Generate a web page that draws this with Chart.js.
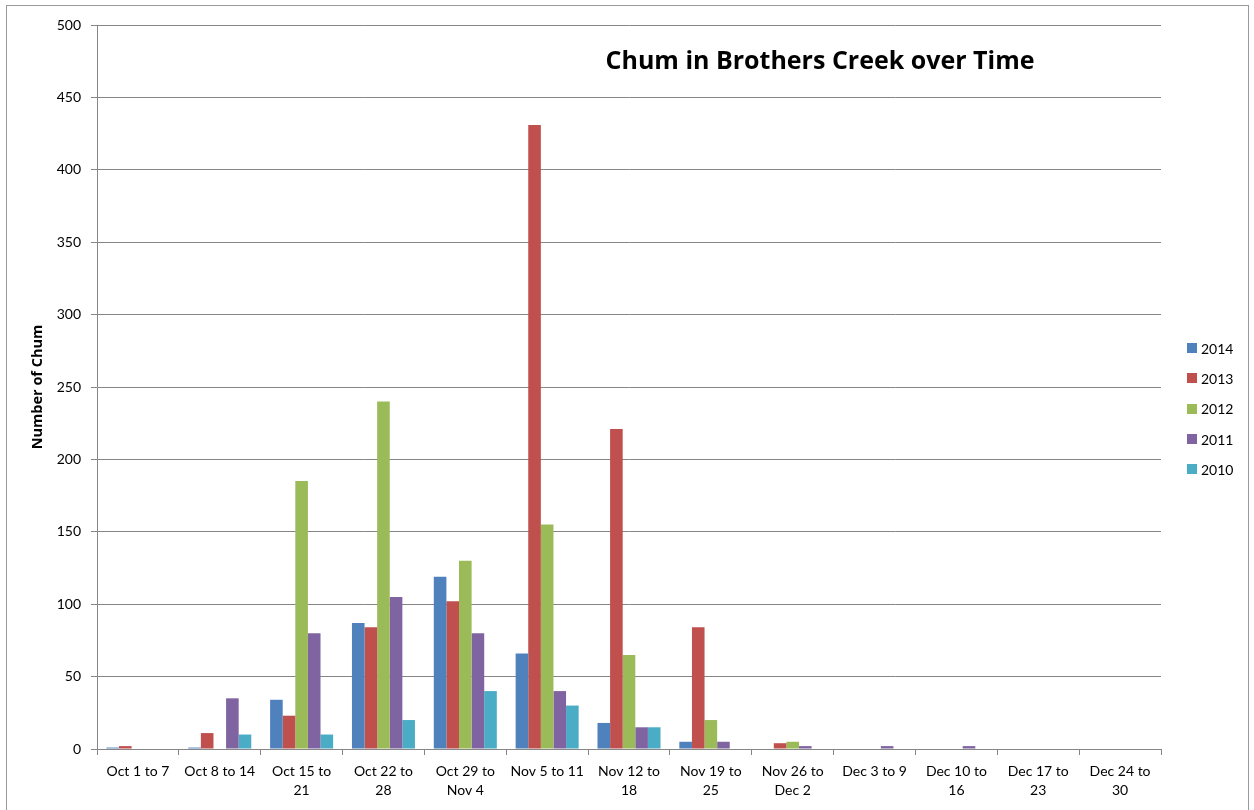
<!DOCTYPE html>
<html>
<head>
<meta charset="utf-8">
<script src="https://cdn.jsdelivr.net/npm/chart.js@4"></script>
<style>
  html, body { margin: 0; padding: 0; background: #fff; }
  #wrap { position: relative; width: 1254px; height: 810px; overflow: hidden; }
  #frame { position: absolute; left: 6px; top: 5px; width: 1243px; height: 820px; border: 1px solid #9a9a9a; box-sizing: border-box; pointer-events: none; }
  #c { position: absolute; left: 0; top: 0; }
  #title { position: absolute; left: 520px; width: 600px; top: 42px; text-align: center;
           font: bold 25px "Open Sans", Lato, sans-serif; color: #000; line-height: 34px; }
  #legend { position: absolute; left: 1187px; top: 333px; font: 14px Lato, sans-serif; color: #000; }
  #legend div { height: 30.3px; display: flex; align-items: center; }
  #legend span { display: inline-block; width: 10px; height: 10px; margin-right: 4px; }
</style>
</head>
<body>
<div id="wrap">
  <canvas id="c" width="1254" height="810"></canvas>
  <div id="frame"></div>
  <div id="title">Chum in Brothers Creek over Time</div>
  <div id="legend"></div>
</div>
<script>
// ── Data ────────────────────────────────────────────────────────────
const weeks = [
  ['Oct 1 to 7'], ['Oct 8 to 14'], ['Oct 15 to', '21'], ['Oct 22 to', '28'],
  ['Oct 29 to', 'Nov 4'], ['Nov 5 to 11'], ['Nov 12 to', '18'], ['Nov 19 to', '25'],
  ['Nov 26 to', 'Dec 2'], ['Dec 3 to 9'], ['Dec 10 to', '16'], ['Dec 17 to', '23'],
  ['Dec 24 to', '30']
];
const years = ['2014', '2013', '2012', '2011', '2010'];
const chum2014 = [1, 1, 34, 87, 119, 66, 18, 5, 0, 0, 0, 0, 0];
const chum2013 = [2, 11, 23, 84, 102, 431, 221, 84, 4, 0, 0, 0, 0];
const chum2012 = [0, 0, 185, 240, 130, 155, 65, 20, 5, 0, 0, 0, 0];
const chum2011 = [0, 35, 80, 105, 80, 40, 15, 5, 2, 2, 2, 0, 0];
const chum2010 = [0, 10, 10, 20, 40, 30, 15, 0, 0, 0, 0, 0, 0];
const yTicks = [0, 50, 100, 150, 200, 250, 300, 350, 400, 450, 500];
const colors = ['#4F81BD', '#C0504D', '#9BBB59', '#8064A2', '#4BACC6'];

const series = [chum2014, chum2013, chum2012, chum2011, chum2010];
const datasets = series.map((d, i) => ({
  label: years[i],
  data: d,
  backgroundColor: colors[i],
  borderWidth: 0,
  categoryPercentage: 0.77,
  barPercentage: 1.0
}));

// legend (html, real text)
const leg = document.getElementById('legend');
years.forEach((y, i) => {
  const row = document.createElement('div');
  row.innerHTML = '<span style="background:' + colors[i] + '"></span>' + y;
  leg.appendChild(row);
});

const font = { family: 'Lato, "Open Sans", sans-serif', size: 14, lineHeight: 1.35 };

new Chart(document.getElementById('c'), {
  type: 'bar',
  data: { labels: weeks, datasets },
  options: {
    responsive: false,
    animation: false,
    layout: { padding: { top: 25, right: 93, left: 0, bottom: 0 } },
    plugins: { legend: { display: false }, tooltip: { enabled: false } },
    scales: {
      x: {
        grid: { drawOnChartArea: false, drawTicks: true, tickLength: 6, color: '#868686', offset: true },
        border: { color: '#868686' },
        ticks: { color: '#000', font, maxRotation: 0, autoSkip: false, padding: 7 },
        afterFit: s => { s.height = 61; }
      },
      y: {
        min: 0, max: 500,
        afterBuildTicks: s => { s.ticks = yTicks.map(v => ({ value: v })); },
        grid: { color: '#868686', tickLength: 6 },
        border: { color: '#868686' },
        ticks: { color: '#000', font, padding: 10 },
        title: { display: true, text: 'Number of Chum', color: '#000',
                 font: { family: '"Open Sans", Lato, sans-serif', size: 14.5, weight: 'bold' },
                 padding: { top: 29, bottom: 0 } },
        afterFit: s => { s.width = 97; }
      }
    }
  }
});
</script>
</body>
</html>
